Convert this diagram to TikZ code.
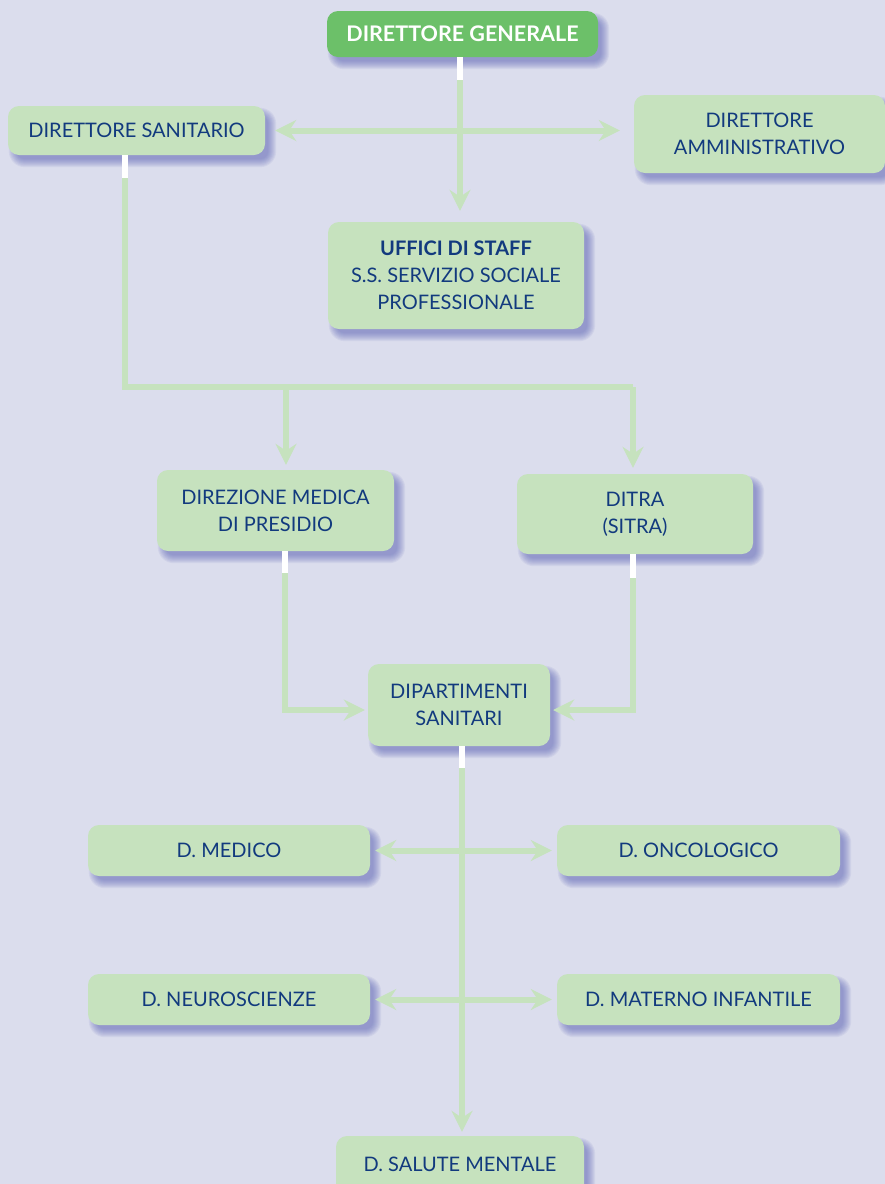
\documentclass[tikz,border=0pt]{standalone}
\usepackage{fontspec}
\setmainfont{Lato}
\usetikzlibrary{arrows.meta,calc}
\definecolor{bg}{RGB}{219,221,237}
\definecolor{boxgreen}{RGB}{198,226,190}
\definecolor{topgreen}{RGB}{108,192,105}
\definecolor{txtblue}{RGB}{18,58,126}
\definecolor{shadowblue}{RGB}{96,104,184}
\definecolor{linkgreen}{RGB}{198,226,190}
\pgfdeclarelayer{back}
\pgfdeclarelayer{shade}
\pgfsetlayers{back,shade,main}
\tikzset{
  box/.style={draw=none, fill=boxgreen, rounded corners=11pt, align=center,
    text=txtblue, font=\fontsize{20}{27}\selectfont, inner sep=0pt},
  topbox/.style={box, fill=topgreen, text=white, font=\fontsize{21.5}{27}\selectfont\bfseries},
  link/.style={draw=linkgreen, line width=6pt},
  tip/.style={-{Stealth[length=21pt,width=21pt,inset=7pt]}},
  tips/.style={{Stealth[length=21pt,width=21pt,inset=7pt]}-{Stealth[length=21pt,width=21pt,inset=7pt]}},
  stub/.style={draw=white, line width=6pt},
  softshade/.style={fill=shadowblue, fill opacity=0.085},
}
\begin{document}
\begin{tikzpicture}[x=1pt,y=-1pt]
  \begin{pgfonlayer}{back}
    \fill[bg] (0,0) rectangle (885,1184);
  \end{pgfonlayer}
  \useasboundingbox (0,0) rectangle (885,1184);

  % junction points of the connectors
  \coordinate (jl) at (125,387);
  \coordinate (jm) at (286,387);
  \coordinate (jr) at (633,387);
  \coordinate (ml) at (285,710);
  \coordinate (mr) at (633,710);
  \coordinate (dgx) at (460,57);
  \coordinate (dipx) at (462,746);

  % boxes
  \node[topbox, minimum width=271pt, minimum height=46pt] (dg) at (462.5,34) {DIRETTORE GENERALE};
  \node[box, minimum width=257pt, minimum height=49pt] (ds) at (136.5,130.5) {DIRETTORE SANITARIO};
  \node[box, minimum width=251pt, minimum height=78pt] (da) at (759.5,134) {DIRETTORE\\AMMINISTRATIVO};
  \node[box, minimum width=256pt, minimum height=107pt] (uff) at (456,275.5) {\textbf{UFFICI DI STAFF}\\S.S. SERVIZIO SOCIALE\\PROFESSIONALE};
  \node[box, minimum width=237pt, minimum height=81pt] (dmp) at (275.5,510.5) {DIREZIONE MEDICA\\DI PRESIDIO};
  \node[box, minimum width=236pt, minimum height=80pt] (ditra) at (635,514) {DITRA\\(SITRA)};
  \node[box, minimum width=182pt, minimum height=82pt] (dip) at (459,705) {DIPARTIMENTI\\SANITARI};
  \node[box, minimum width=282pt, minimum height=51pt] (dmed) at (229,850.5) {D. MEDICO};
  \node[box, minimum width=283pt, minimum height=51pt] (donc) at (698.5,850.5) {D. ONCOLOGICO};
  \node[box, minimum width=282pt, minimum height=51pt] (dneu) at (229,999.5) {D. NEUROSCIENZE};
  \node[box, minimum width=283pt, minimum height=51pt] (dmat) at (698.5,999.5) {D. MATERNO INFANTILE};
  \node[box, minimum width=248pt, minimum height=60pt] (dsm) at (460,1166) {\raisebox{4pt}{D. SALUTE MENTALE}};

  % soft drop shadows, stacked translucent outlines below and right of each box
  \begin{pgfonlayer}{shade}
    \foreach \n in {dg,ds,da,uff,dmp,ditra,dip,dmed,donc,dneu,dmat,dsm}{
      \foreach \r in {-3,-2,...,5}{
        \fill[softshade, rounded corners=11pt+\r pt]
          ($(\n.north west)+(6-\r,7-\r)$) rectangle ($(\n.south east)+(6+\r,7+\r)$);
      }
    }
  \end{pgfonlayer}

  % Direttore generale: down to staff, sideways to the two directors
  \draw[link, tips, shorten <=10pt, shorten >=14pt] (ds.east) -- (ds.east -| da.west);
  \draw[link, tip, shorten >=11pt] (dgx) -- (dgx |- uff.north);
  \draw[stub] (dgx) -- ++(0,23);

  % Direttore sanitario: down and across to the two directions
  \draw[link, line join=miter] (ds.south -| jl) -- (jl) -- (jr);
  \draw[link, tip, shorten >=6pt] (jr) -- (jr |- ditra.north);
  \draw[link, tip, shorten >=5pt] (jm) -- (jm |- dmp.north);
  \draw[stub] (ds.south -| jl) -- ++(0,23);

  % both directions into the departments
  \draw[link, tip, shorten >=3pt] (dmp.south -| ml) -- (ml) -- (ml -| dip.west);
  \draw[link, tip, shorten >=3pt] (ditra.south -| mr) -- (mr) -- (mr -| dip.east);
  \draw[stub] (dmp.south -| ml) -- ++(0,22);
  \draw[stub] (ditra.south -| mr) -- ++(0,24);

  % departments: central spine with side branches
  \draw[link, tip, shorten >=4pt] (dipx) -- (dipx |- dsm.north);
  \draw[stub] (dipx) -- ++(0,22);
  \draw[link, tips, shorten <=5pt, shorten >=5pt] (dmed.east) -- (donc.west);
  \draw[link, tips, shorten <=5pt, shorten >=5pt] (dneu.east) -- (dmat.west);
\end{tikzpicture}
\end{document}
